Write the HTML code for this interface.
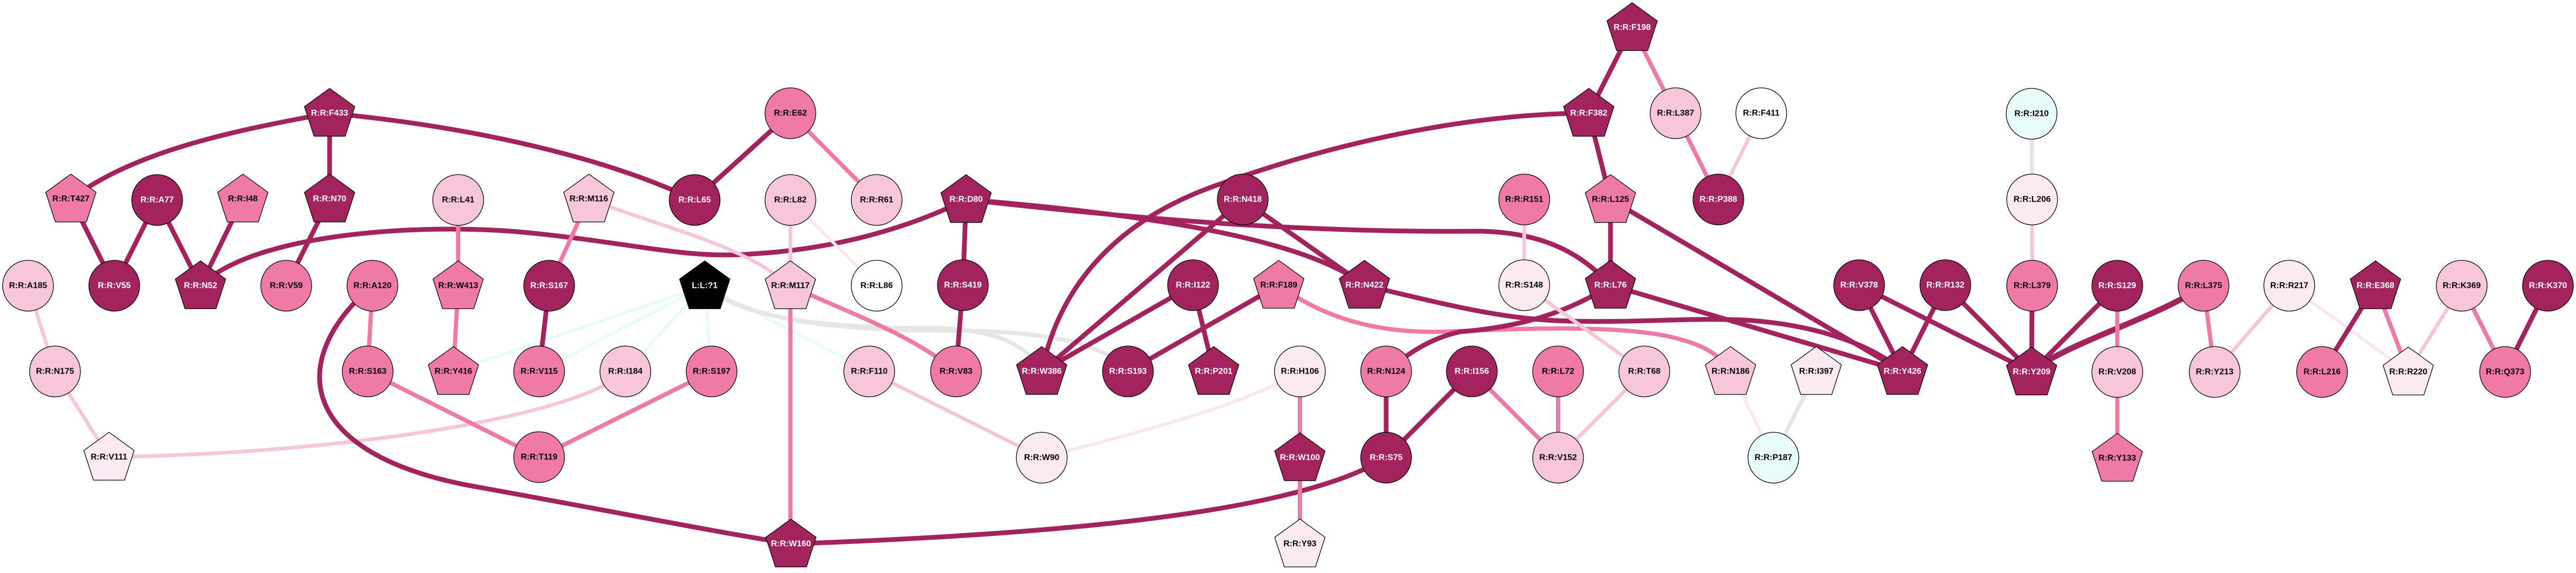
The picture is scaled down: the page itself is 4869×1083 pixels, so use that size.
<!DOCTYPE html>
<html><head><meta charset="utf-8"><style>
html,body{margin:0;padding:0;background:#fff;}
svg{display:block;}
text{font-family:"Liberation Sans",Arial,sans-serif;font-weight:bold;font-size:16px;text-anchor:middle;dominant-baseline:central;}
.w{fill:#fff}.b{fill:#000}
.D{stroke:#a2235e;stroke-width:9;fill:none}
.M{stroke:#ef7aa8;stroke-width:8;fill:none}
.L{stroke:#f8c6db;stroke-width:7;fill:none}
.V{stroke:#fbe6ef;stroke-width:6;fill:none}
.G{stroke:#e6e6e6;stroke-width:8;fill:none}
.C{stroke:#e8fbfb;stroke-width:6;fill:none}
.n{stroke:#000;stroke-width:1.3}
</style></head><body>
<svg width="4869" height="1083" viewBox="0 0 4869 1083" xmlns="http://www.w3.org/2000/svg">
<defs>
<polygon id="p" points="0,-47 47.6,-12.5 29.4,43.5 -29.4,43.5 -47.6,-12.5"/>
</defs>
<g>
<!-- cyan ligand edges -->
<path class="C" d="M1332 540 L857 702"/>
<path class="C" d="M1332 540 L1019 702"/>
<path class="C" d="M1332 540 L1182 702"/>
<path class="C" d="M1332 540 L1345 702"/>
<path class="C" d="M1332 540 L1643 702"/>
<path class="G" d="M1332 540 C1400 600 1550 620 1750 620 C1880 620 1940 650 1969 702"/>
<path class="G" d="M1332 540 C1420 610 1600 625 1800 625 C1980 625 2090 650 2132 702"/>
<!-- left cluster -->
<path class="D" d="M134 376 C250 290 420 250 623 214"/>
<path class="D" d="M623 214 L623 376"/>
<path class="D" d="M623 214 C900 240 1150 300 1313 378"/>
<path class="D" d="M134 376 L216 540"/>
<path class="D" d="M297 378 L216 540"/>
<path class="D" d="M297 378 L379 540"/>
<path class="D" d="M459 376 L379 540"/>
<path class="D" d="M623 376 L541 540"/>
<path class="D" d="M379 540 C480 440 800 420 1000 440 C1200 460 1300 490 1420 480 C1600 470 1740 420 1826 377"/>
<path class="M" d="M866 378 L866 540"/>
<path class="M" d="M866 540 L857 702"/>
<path class="L" d="M53 540 L104 702"/>
<path class="L" d="M104 702 L206 864"/>
<path class="L" d="M206 864 C700 855 1100 780 1182 702"/>
<path class="M" d="M704 540 L695 702"/>
<path class="M" d="M695 702 L1019 864"/>
<path class="D" d="M704 540 C540 680 560 860 900 920 C1150 965 1350 1005 1495 1028"/>
<path class="M" d="M1113 376 L1038 540"/>
<path class="L" d="M1113 376 C1250 430 1400 460 1494 540"/>
<path class="D" d="M1038 540 L1019 702"/>
<path class="D" d="M1494 214 L1313 378"/>
<path class="M" d="M1494 214 L1657 378"/>
<path class="L" d="M1494 378 L1494 540"/>
<path class="V" d="M1494 378 L1657 540"/>
<path class="M" d="M1494 540 L1494 1028"/>
<path class="M" d="M1494 540 C1600 590 1720 630 1807 702"/>
<path class="M" d="M1345 702 L1019 864"/>
<path class="L" d="M1643 702 L1969 865"/>
<path class="D" d="M1495 1028 C2000 1010 2450 970 2620 865"/>
<!-- middle -->
<path class="D" d="M1826 377 L1820 539"/>
<path class="D" d="M1820 539 L1807 702"/>
<path class="D" d="M1826 377 C2100 400 2450 440 2579 539"/>
<path class="D" d="M1826 377 C2200 420 2500 440 2800 437 C2920 440 2990 480 3044 539"/>
<path class="D" d="M1969 702 C2000 550 2100 420 2300 350 C2550 260 2800 214 3003 214"/>
<path class="D" d="M2349 377 L1969 702"/>
<path class="D" d="M2349 377 L2579 539"/>
<path class="D" d="M2255 539 L1969 702"/>
<path class="D" d="M2255 539 L2294 702"/>
<path class="D" d="M2417 539 L2132 702"/>
<path class="M" d="M2417 539 C2500 600 2600 630 2725 627 C2900 620 3050 615 3150 635 C3220 650 3250 670 3271 702"/>
<path class="D" d="M2579 539 C2750 580 2850 605 2971 607 C3100 610 3200 600 3300 605 C3450 615 3550 660 3596 702"/>
<path class="D" d="M3044 539 C2950 600 2850 620 2760 627 C2700 640 2660 670 2620 702"/>
<path class="M" d="M2457 702 L2457 865"/>
<path class="M" d="M2457 865 L2457 1028"/>
<path class="V" d="M2457 702 C2350 770 2100 830 1969 865"/>
<path class="D" d="M2620 702 L2620 865"/>
<path class="D" d="M2782 702 L2620 865"/>
<!-- right middle -->
<path class="D" d="M3085 52 L3003 214"/>
<path class="M" d="M3085 52 L3167 214"/>
<path class="M" d="M3167 214 L3248 377"/>
<path class="L" d="M3329 214 L3248 377"/>
<path class="D" d="M3003 214 L3044 377"/>
<path class="D" d="M3044 377 L3044 539"/>
<path class="D" d="M3044 377 L3596 702"/>
<path class="L" d="M2881 377 L2881 539"/>
<path class="L" d="M2881 539 L3108 702"/>
<path class="D" d="M3044 539 L3596 702"/>
<path class="M" d="M2782 702 L2945 865"/>
<path class="M" d="M2945 702 L2945 865"/>
<path class="L" d="M3108 702 L2945 865"/>
<path class="V" d="M3271 702 L3352 865"/>
<path class="G" d="M3433 702 L3352 865"/>
<path class="D" d="M3514 539 L3596 702"/>
<path class="D" d="M3677 539 L3596 702"/>
<path class="D" d="M3514 539 L3840 703"/>
<path class="D" d="M3677 539 L3840 703"/>
<!-- far right -->
<path class="G" d="M3840 215 L3841 377"/>
<path class="L" d="M3841 377 L3841 540"/>
<path class="D" d="M3841 540 L3840 703"/>
<path class="D" d="M4002 540 L3840 703"/>
<path class="D" style="stroke-width:11" d="M4165 540 C4080 600 3900 650 3840 703"/>
<path class="M" d="M4002 540 L4002 703"/>
<path class="M" d="M4002 703 L4002 866"/>
<path class="M" d="M4165 540 L4186 703"/>
<path class="L" d="M4327 540 L4186 703"/>
<path class="V" d="M4327 540 L4552 703"/>
<path class="D" d="M4490 540 L4389 703"/>
<path class="M" d="M4490 540 L4552 703"/>
<path class="L" d="M4653 540 L4552 703"/>
<path class="M" d="M4653 540 L4735 703"/>
<path class="D" d="M4816 540 L4735 703"/>
</g>
<g>
<!-- nodes: colors -->
<!-- dark #a2235e, med #ef7aa8, light #f8c6db, vlight #fbeaf2, cyan #e8fcfc -->
<use href="#p" x="623" y="214" class="n" fill="#a2235e"/><text x="623" y="214" class="w">R:R:F433</text>
<use href="#p" x="134" y="376" class="n" fill="#ef7aa8"/><text x="134" y="376">R:R:T427</text>
<circle cx="297" cy="378" r="48" class="n" fill="#a2235e"/><text x="297" y="378" class="w">R:R:A77</text>
<use href="#p" x="459" y="376" class="n" fill="#ef7aa8"/><text x="459" y="376">R:R:I48</text>
<use href="#p" x="623" y="376" class="n" fill="#a2235e"/><text x="623" y="376" class="w">R:R:N70</text>
<circle cx="866" cy="378" r="48" class="n" fill="#f8c6db"/><text x="866" y="378">R:R:L41</text>
<circle cx="53" cy="540" r="48" class="n" fill="#f8c6db"/><text x="53" y="540">R:R:A185</text>
<circle cx="216" cy="540" r="48" class="n" fill="#a2235e"/><text x="216" y="540" class="w">R:R:V55</text>
<use href="#p" x="379" y="540" class="n" fill="#a2235e"/><text x="379" y="540" class="w">R:R:N52</text>
<circle cx="541" cy="540" r="48" class="n" fill="#ef7aa8"/><text x="541" y="540">R:R:V59</text>
<circle cx="704" cy="540" r="48" class="n" fill="#ef7aa8"/><text x="704" y="540">R:R:A120</text>
<use href="#p" x="866" y="540" class="n" fill="#ef7aa8"/><text x="866" y="540">R:R:W413</text>
<circle cx="104" cy="702" r="48" class="n" fill="#f8c6db"/><text x="104" y="702">R:R:N175</text>
<circle cx="695" cy="702" r="48" class="n" fill="#ef7aa8"/><text x="695" y="702">R:R:S163</text>
<use href="#p" x="857" y="702" class="n" fill="#ef7aa8"/><text x="857" y="702">R:R:Y416</text>
<use href="#p" x="206" y="864" class="n" fill="#fbeaf2"/><text x="206" y="864">R:R:V111</text>

<circle cx="1494" cy="214" r="48" class="n" fill="#ef7aa8"/><text x="1494" y="214">R:R:E62</text>
<use href="#p" x="1113" y="376" class="n" fill="#f8c6db"/><text x="1113" y="376">R:R:M116</text>
<circle cx="1313" cy="378" r="48" class="n" fill="#a2235e"/><text x="1313" y="378" class="w">R:R:L65</text>
<circle cx="1494" cy="378" r="48" class="n" fill="#f8c6db"/><text x="1494" y="378">R:R:L82</text>
<circle cx="1657" cy="378" r="48" class="n" fill="#f8c6db"/><text x="1657" y="378">R:R:R61</text>
<circle cx="1038" cy="540" r="48" class="n" fill="#a2235e"/><text x="1038" y="540" class="w">R:R:S167</text>
<use href="#p" x="1332" y="540" class="n" fill="#000"/><text x="1332" y="540" class="w">L:L:?1</text>
<use href="#p" x="1494" y="540" class="n" fill="#f8c6db"/><text x="1494" y="540">R:R:M117</text>
<circle cx="1657" cy="540" r="48" class="n" fill="#fff"/><text x="1657" y="540">R:R:L86</text>
<circle cx="1019" cy="702" r="48" class="n" fill="#ef7aa8"/><text x="1019" y="702">R:R:V115</text>
<circle cx="1182" cy="702" r="48" class="n" fill="#f8c6db"/><text x="1182" y="702">R:R:I184</text>
<circle cx="1345" cy="702" r="48" class="n" fill="#ef7aa8"/><text x="1345" y="702">R:R:S197</text>
<circle cx="1643" cy="702" r="48" class="n" fill="#f8c6db"/><text x="1643" y="702">R:R:F110</text>
<circle cx="1019" cy="864" r="48" class="n" fill="#ef7aa8"/><text x="1019" y="864">R:R:T119</text>
<use href="#p" x="1495" y="1028" class="n" fill="#a2235e"/><text x="1495" y="1028" class="w">R:R:W160</text>

<use href="#p" x="1826" y="377" class="n" fill="#a2235e"/><text x="1826" y="377" class="w">R:R:D80</text>
<circle cx="2349" cy="377" r="48" class="n" fill="#a2235e"/><text x="2349" y="377" class="w">R:R:N418</text>
<circle cx="1820" cy="539" r="48" class="n" fill="#a2235e"/><text x="1820" y="539" class="w">R:R:S419</text>
<circle cx="2255" cy="539" r="48" class="n" fill="#a2235e"/><text x="2255" y="539" class="w">R:R:I122</text>
<use href="#p" x="2417" y="539" class="n" fill="#ef7aa8"/><text x="2417" y="539">R:R:F189</text>
<use href="#p" x="2579" y="539" class="n" fill="#a2235e"/><text x="2579" y="539" class="w">R:R:N422</text>
<circle cx="1807" cy="702" r="48" class="n" fill="#ef7aa8"/><text x="1807" y="702">R:R:V83</text>
<use href="#p" x="1969" y="702" class="n" fill="#a2235e"/><text x="1969" y="702" class="w">R:R:W386</text>
<circle cx="2132" cy="702" r="48" class="n" fill="#a2235e"/><text x="2132" y="702" class="w">R:R:S193</text>
<use href="#p" x="2294" y="702" class="n" fill="#a2235e"/><text x="2294" y="702" class="w">R:R:P201</text>
<circle cx="2457" cy="702" r="48" class="n" fill="#fbeaf2"/><text x="2457" y="702">R:R:H106</text>
<circle cx="2620" cy="702" r="48" class="n" fill="#ef7aa8"/><text x="2620" y="702">R:R:N124</text>
<circle cx="2782" cy="702" r="48" class="n" fill="#a2235e"/><text x="2782" y="702" class="w">R:R:I156</text>
<circle cx="1969" cy="865" r="48" class="n" fill="#fbeaf2"/><text x="1969" y="865">R:R:W90</text>
<use href="#p" x="2457" y="865" class="n" fill="#a2235e"/><text x="2457" y="865" class="w">R:R:W100</text>
<circle cx="2620" cy="865" r="48" class="n" fill="#a2235e"/><text x="2620" y="865" class="w">R:R:S75</text>
<use href="#p" x="2457" y="1028" class="n" fill="#fbeaf2"/><text x="2457" y="1028">R:R:Y93</text>

<use href="#p" x="3085" y="52" class="n" fill="#a2235e"/><text x="3085" y="52" class="w">R:R:F198</text>
<use href="#p" x="3003" y="214" class="n" fill="#a2235e"/><text x="3003" y="214" class="w">R:R:F382</text>
<circle cx="3167" cy="214" r="48" class="n" fill="#f8c6db"/><text x="3167" y="214">R:R:L387</text>
<circle cx="3329" cy="214" r="48" class="n" fill="#fff"/><text x="3329" y="214">R:R:F411</text>
<circle cx="2881" cy="377" r="48" class="n" fill="#ef7aa8"/><text x="2881" y="377">R:R:R151</text>
<use href="#p" x="3044" y="377" class="n" fill="#ef7aa8"/><text x="3044" y="377">R:R:L125</text>
<circle cx="3248" cy="377" r="48" class="n" fill="#a2235e"/><text x="3248" y="377" class="w">R:R:P388</text>
<circle cx="2881" cy="539" r="48" class="n" fill="#fbeaf2"/><text x="2881" y="539">R:R:S148</text>
<use href="#p" x="3044" y="539" class="n" fill="#a2235e"/><text x="3044" y="539" class="w">R:R:L76</text>
<circle cx="3514" cy="539" r="48" class="n" fill="#a2235e"/><text x="3514" y="539" class="w">R:R:V378</text>
<circle cx="3677" cy="539" r="48" class="n" fill="#a2235e"/><text x="3677" y="539" class="w">R:R:R132</text>
<circle cx="2945" cy="702" r="48" class="n" fill="#ef7aa8"/><text x="2945" y="702">R:R:L72</text>
<circle cx="3108" cy="702" r="48" class="n" fill="#f8c6db"/><text x="3108" y="702">R:R:T68</text>
<use href="#p" x="3271" y="702" class="n" fill="#f8c6db"/><text x="3271" y="702">R:R:N186</text>
<use href="#p" x="3433" y="702" class="n" fill="#fbeaf2"/><text x="3433" y="702">R:R:I397</text>
<use href="#p" x="3596" y="702" class="n" fill="#a2235e"/><text x="3596" y="702" class="w">R:R:Y426</text>
<circle cx="2945" cy="865" r="48" class="n" fill="#f8c6db"/><text x="2945" y="865">R:R:V152</text>
<circle cx="3352" cy="865" r="48" class="n" fill="#e8fcfc"/><text x="3352" y="865">R:R:P187</text>

<circle cx="3840" cy="215" r="48" class="n" fill="#e8fcfc"/><text x="3840" y="215">R:R:I210</text>
<circle cx="3841" cy="377" r="48" class="n" fill="#fbeaf2"/><text x="3841" y="377">R:R:L206</text>
<circle cx="3841" cy="540" r="48" class="n" fill="#ef7aa8"/><text x="3841" y="540">R:R:L379</text>
<circle cx="4002" cy="540" r="48" class="n" fill="#a2235e"/><text x="4002" y="540" class="w">R:R:S129</text>
<circle cx="4165" cy="540" r="48" class="n" fill="#ef7aa8"/><text x="4165" y="540">R:R:L375</text>
<circle cx="4327" cy="540" r="48" class="n" fill="#fbeaf2"/><text x="4327" y="540">R:R:R217</text>
<use href="#p" x="4490" y="540" class="n" fill="#a2235e"/><text x="4490" y="540" class="w">R:R:E368</text>
<circle cx="4653" cy="540" r="48" class="n" fill="#f8c6db"/><text x="4653" y="540">R:R:K369</text>
<circle cx="4816" cy="540" r="48" class="n" fill="#a2235e"/><text x="4816" y="540" class="w">R:R:K370</text>
<use href="#p" x="3840" y="703" class="n" fill="#a2235e"/><text x="3840" y="703" class="w">R:R:Y209</text>
<circle cx="4002" cy="703" r="48" class="n" fill="#f8c6db"/><text x="4002" y="703">R:R:V208</text>
<circle cx="4186" cy="703" r="48" class="n" fill="#f8c6db"/><text x="4186" y="703">R:R:Y213</text>
<circle cx="4389" cy="703" r="48" class="n" fill="#ef7aa8"/><text x="4389" y="703">R:R:L216</text>
<use href="#p" x="4552" y="703" class="n" fill="#fbeaf2"/><text x="4552" y="703">R:R:R220</text>
<circle cx="4735" cy="703" r="48" class="n" fill="#ef7aa8"/><text x="4735" y="703">R:R:Q373</text>
<use href="#p" x="4002" y="866" class="n" fill="#ef7aa8"/><text x="4002" y="866">R:R:Y133</text>
</g>
</svg>
</body></html>
